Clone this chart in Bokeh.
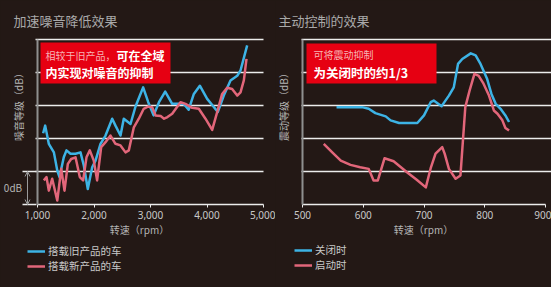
from math import pi
from bokeh.plotting import figure
from bokeh.layouts import row
from bokeh.models import (Label, Legend, LegendItem, FixedTicker, NumeralTickFormatter,
                          BoxAnnotation, Arrow, OpenHead, GlobalInlineStyleSheet)
from bokeh.embed import file_html
from bokeh.resources import INLINE

# ---------------- data ----------------
rpm_ticks_left = [1000, 2000, 3000, 4000, 5000]
rpm_ticks_right = [500, 600, 700, 800, 900]
level_grid = [1, 2, 3, 4, 5]

old_rpm = [1100, 1136, 1200, 1290, 1350, 1390, 1465, 1513, 1584, 1673, 1761, 1820, 1890, 1968,
           2027, 2115, 2204, 2322, 2380, 2469, 2527, 2646, 2735, 2800, 2870, 2960, 3055, 3150,
           3260, 3384, 3500, 3589, 3675, 3767, 3873, 4003, 4100, 4191, 4297, 4416, 4535, 4593, 4711]
old_lvl = [2.16, 2.39, 1.84, 1.58, 1.03, 0.83, 1.43, 1.64, 1.54, 1.54, 1.58, 1.18, 0.47, 1.13,
           1.33, 1.84, 2.09, 2.6, 2.39, 2.09, 2.6, 2.44, 2.97, 3.25, 3.55, 3.1, 2.7, 3.1,
           3.42, 3.05, 3.05, 3.05, 2.87, 3.35, 3.6, 3.2, 3.0, 2.8, 3.3, 3.76, 3.9, 4.06, 4.82]

new_rpm = [1112, 1160, 1200, 1260, 1350, 1420, 1478, 1537, 1596, 1673, 1749, 1808, 1867, 1926,
           1996, 2055, 2127, 2204, 2292, 2380, 2469, 2558, 2616, 2705, 2793, 2880, 2960, 3030,
           3090, 3180, 3240, 3300, 3384, 3531, 3619, 3738, 3855, 3973, 4092, 4180, 4268, 4357,
           4445, 4535, 4593, 4652, 4699]
new_lvl = [0.73, 0.83, 0.42, 0.78, 0.12, 1.08, 0.42, 1.23, 1.38, 1.43, 0.83, 0.73, 1.43, 1.64,
           1.33, 0.73, 1.74, 1.89, 2.09, 1.84, 1.79, 1.58, 1.64, 2.34, 2.6, 2.9, 2.97, 2.95,
           2.7, 2.68, 2.6, 2.65, 2.75, 3.1, 3.05, 2.93, 2.9, 2.6, 2.26, 2.8, 3.35, 3.54,
           3.5, 3.3, 3.4, 3.76, 4.41]

off_rpm = [556, 598, 609, 620, 637, 645, 659, 689, 700, 711, 716, 729, 741, 749, 756, 763,
           777, 785, 793, 804, 811, 818, 826, 834, 840]
off_lvl = [2.95, 2.95, 2.9, 2.77, 2.67, 2.55, 2.47, 2.47, 2.7, 3.1, 3.15, 2.98, 3.3, 3.55, 4.26,
           4.41, 4.58, 4.52, 4.26, 3.8, 3.35, 3.05, 2.9, 2.7, 2.5]

on_rpm = [535, 549, 563, 579, 595, 609, 617, 624, 635, 650, 672, 688, 703, 711, 719, 730, 734,
          741, 752, 760, 768, 775, 783, 790, 798, 807, 815, 821, 829, 834, 840]
on_lvl = [1.84, 1.58, 1.33, 1.2, 1.13, 1.08, 0.73, 0.73, 1.4, 1.31, 0.98, 0.75, 0.52, 1.1, 1.54,
          1.74, 1.54, 1.08, 0.78, 0.88, 2.95, 3.45, 3.96, 3.9, 3.66, 3.3, 2.85, 2.75, 2.55,
          2.32, 2.24]

# ---------------- style ----------------
BG = "#231815"
BLUE = "#3db3e5"
RED = "#e2667a"
BOXRED = "#e60012"
GRID = "#ececec"
GREY = "#b4b4b4"
CJK = "Noto Sans CJK SC"
H = 287
LW, RW = 275, 276

# pixel -> data helpers (image pixel coordinates)
def ymap(py):
    return (204 - py) / 33.0

def lx(px):
    return 1000 + (px - 37) * 4000.0 / 226.0

def rx(px):
    return 500 + (px - 302) * 400.0 / 243.0


def base_fig(width, xmap, x0px, x1px):
    p = figure(width=width, height=H, output_backend="svg", toolbar_location=None,
               x_range=(xmap(x0px), xmap(x1px)), y_range=(ymap(H), ymap(0)),
               min_border=0, min_border_left=0, min_border_right=0,
               min_border_top=0, min_border_bottom=0)
    p.background_fill_color = BG
    p.border_fill_color = BG
    p.outline_line_color = None
    p.xgrid.visible = False
    p.ygrid.visible = False
    return p


def style_axes(p, xticks, fmt, x_lo):
    xa = p.xaxis[0]
    xa.fixed_location = 0
    xa.bounds = (xticks[0], xticks[-1])
    xa.ticker = FixedTicker(ticks=xticks)
    xa.formatter = NumeralTickFormatter(format=fmt)
    xa.axis_line_color = GRID
    xa.axis_line_width = 1.5
    xa.major_tick_line_color = GRID
    xa.major_tick_out = 3
    xa.major_tick_in = 0
    xa.minor_tick_line_color = None
    xa.major_label_standoff = 3
    xa.major_label_text_color = "#c8c8c8"
    xa.major_label_text_font = "Noto Sans"
    xa.major_label_text_font_size = "10px"
    ya = p.yaxis[0]
    ya.fixed_location = x_lo
    ya.bounds = (0, level_grid[-1])
    ya.ticker = FixedTicker(ticks=[])
    ya.axis_line_color = "#8f8f8f"
    ya.axis_line_width = 2
    ya.major_tick_line_color = None
    ya.minor_tick_line_color = None
    ya.major_label_text_font_size = "0px"


def text(p, x, y, t, size, color=GREY, bold=False, align="left", angle=0):
    p.add_layout(Label(x=x, y=y, text=t, text_font=CJK, text_font_size=size,
                       text_color=color, text_font_style="bold" if bold else "normal",
                       text_align=align, text_baseline="middle", angle=angle))


def legend_item(p, r, name, x, y):
    lg = Legend(items=[LegendItem(label=name, renderers=[r])],
                location=(x, y), glyph_width=18, glyph_height=12, label_height=12,
                spacing=0, padding=0, margin=0, border_line_color=None,
                background_fill_alpha=0, label_text_font=CJK, label_text_font_size="10.5px",
                label_text_color="#c8c8c8", label_standoff=3)
    p.add_layout(lg)

# ---------------- left chart ----------------
p1 = base_fig(LW, lx, 0, LW)
style_axes(p1, rpm_ticks_left, "0,0", rpm_ticks_left[0])
p1.segment(x0=[lx(35)] * len(level_grid), x1=[rpm_ticks_left[-1]] * len(level_grid),
           y0=level_grid, y1=level_grid, line_color=GRID, line_width=1.5)
p1.segment(x0=[lx(22)] * 2, x1=[lx(36)] * 2, y0=[0, level_grid[0]], y1=[0, level_grid[0]],
           line_color=GRID, line_width=1.5)
p1.add_layout(Arrow(x_start=lx(27), y_start=level_grid[0], x_end=lx(27), y_end=0,
                    line_color="#9a9a9a", line_width=1,
                    start=OpenHead(size=5, line_color="#9a9a9a", line_width=1),
                    end=OpenHead(size=5, line_color="#9a9a9a", line_width=1)))
r_old = p1.line(old_rpm, old_lvl, line_color=BLUE, line_width=2.5, line_join="round")
r_new = p1.line(new_rpm, new_lvl, line_color=RED, line_width=2.5, line_join="round")

text(p1, lx(13), ymap(20), "加速噪音降低效果", "13px", color="#a9a9a9")
text(p1, lx(18), ymap(104), "噪音等级（dB）", "10px", angle=pi / 2, align="center")
text(p1, lx(12.5), ymap(187), "0dB", "10px", align="center")
text(p1, lx(139), ymap(229), "转速（rpm）", "10px", align="center")
p1.add_layout(BoxAnnotation(left=lx(40), right=lx(170), top=ymap(42), bottom=ymap(83),
                            fill_color=BOXRED, fill_alpha=1, line_color=None))
text(p1, lx(45), ymap(55), "相较于旧产品，", "10px", color="#f6b3b5")
text(p1, lx(116), ymap(55), "可在全域", "12px", color="white", bold=True)
text(p1, lx(45), ymap(72), "内实现对噪音的抑制", "12px", color="white", bold=True)
legend_item(p1, r_old, "搭载旧产品的车", 27, 29)
legend_item(p1, r_new, "搭载新产品的车", 27, 14)

# ---------------- right chart ----------------
p2 = base_fig(RW, rx, 275, 551)
style_axes(p2, rpm_ticks_right, "0", rpm_ticks_right[0])
p2.segment(x0=[rx(301)] * len(level_grid), x1=[rx(551)] * len(level_grid),
           y0=level_grid, y1=level_grid, line_color=GRID, line_width=1.5)
r_off = p2.line(off_rpm, off_lvl, line_color=BLUE, line_width=2.5, line_join="round")
r_on = p2.line(on_rpm, on_lvl, line_color=RED, line_width=2.5, line_join="round")

text(p2, rx(278), ymap(20), "主动控制的效果", "13px", color="#a9a9a9")
text(p2, rx(283), ymap(104), "震动等级（dB）", "10px", angle=pi / 2, align="center")
text(p2, rx(423), ymap(229), "转速（rpm）", "10px", align="center")
p2.add_layout(BoxAnnotation(left=rx(306), right=rx(436), top=ymap(43), bottom=ymap(83),
                            fill_color=BOXRED, fill_alpha=1, line_color=None))
text(p2, rx(313), ymap(54), "可将震动抑制", "10px", color="#f6b3b5")
text(p2, rx(313), ymap(72), "为关闭时的约1/3", "12.5px", color="white", bold=True)
legend_item(p2, r_off, "关闭时", 19, 30)
legend_item(p2, r_on, "启动时", 19, 15)

css = GlobalInlineStyleSheet(css="html, body { margin: 0 !important; padding: 0; background: #231815; overflow: hidden; }")
layout = row(p1, p2, stylesheets=[css])

open("out.html", "w").write(file_html(layout, INLINE))
